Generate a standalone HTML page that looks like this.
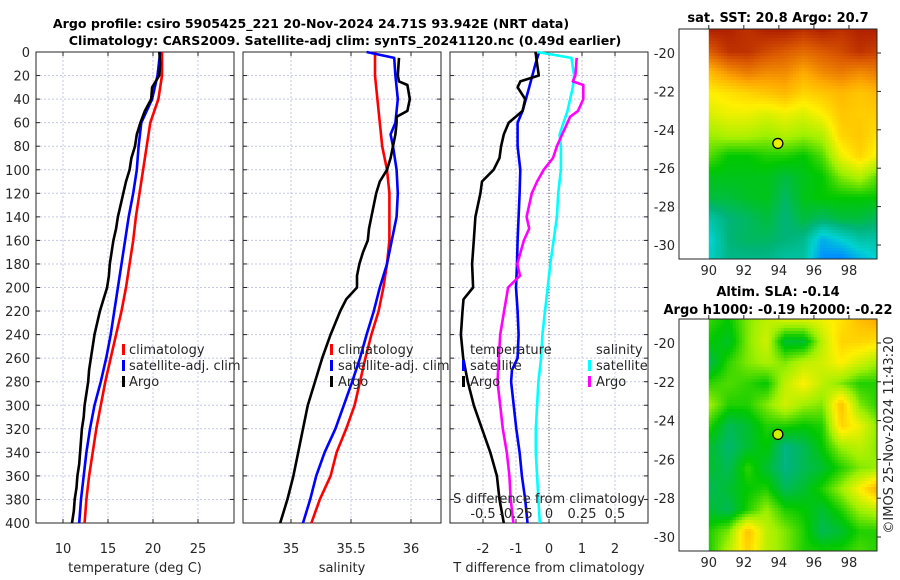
<!DOCTYPE html>
<html><head><meta charset="utf-8"><style>
body{margin:0;background:#fff;}
svg{display:block;font-family:"DejaVu Sans","Liberation Sans",sans-serif;}
</style></head><body>
<svg id="fig" width="900" height="580" viewBox="0 0 900 580" xmlns="http://www.w3.org/2000/svg">
<text x="311" y="28" text-anchor="middle" font-size="12.6" font-weight="bold">Argo profile: csiro 5905425_221 20-Nov-2024 24.71S 93.942E (NRT data)</text>
<text x="345" y="45" text-anchor="middle" font-size="12.6" font-weight="bold">Climatology: CARS2009. Satellite-adj clim: synTS_20241120.nc (0.49d earlier)</text>
<g id="g"></g>
</svg>
<script>
// ---------- data ----------
const climDepth=[0,20,40,60,80,100,120,140,160,180,200,220,240,260,280,300,320,340,360,380,400];
const climTemp=[21.0,21.0,20.6,19.7,19.3,18.9,18.5,18.1,17.8,17.4,17.0,16.5,15.9,15.3,14.7,14.2,13.7,13.3,12.9,12.6,12.4];
const satTemp=[20.8,20.5,19.9,18.7,18.4,18.2,17.8,17.3,16.9,16.5,16.1,15.7,15.3,14.8,14.2,13.5,13.0,12.6,12.3,12.0,11.8];
const argoDepth=[0,10,20,30,40,50,60,70,80,90,100,110,120,130,140,150,160,170,180,190,200,210,220,230,240,250,260,270,280,290,300,310,320,330,340,350,360,370,380,390,400];
const argoTemp=[20.7,20.8,20.7,19.9,19.8,19.1,18.6,18.2,18.0,17.6,17.4,17.0,16.7,16.4,16.1,15.9,15.6,15.4,15.2,15.1,14.9,14.5,14.1,13.8,13.5,13.3,13.1,12.9,12.8,12.6,12.4,12.3,12.1,12.0,11.9,11.8,11.6,11.5,11.3,11.2,11.0];
const climSalt=[35.70,35.70,35.72,35.74,35.76,35.80,35.82,35.82,35.82,35.80,35.77,35.73,35.67,35.62,35.575,35.53,35.46,35.38,35.33,35.24,35.17];
const satSaltDepth=[0,5,20,40,60,70,80,100,120,140,160,180,200,220,240,260,280,300,320,340,360,380,400];
const satSalt=[35.63,35.86,35.87,35.89,35.87,35.83,35.85,35.88,35.89,35.88,35.84,35.80,35.74,35.69,35.63,35.575,35.51,35.44,35.37,35.28,35.21,35.16,35.10];
const argoSaltDepth=[5,20,25,28,40,50,55,60,70,80,90,100,110,120,140,150,160,170,180,190,200,210,220,240,260,280,300,320,340,360,380,400];
const argoSalt=[35.90,35.89,35.90,35.97,35.99,35.97,35.88,35.88,35.87,35.85,35.83,35.80,35.74,35.71,35.67,35.65,35.64,35.60,35.57,35.55,35.55,35.46,35.41,35.33,35.26,35.20,35.14,35.10,35.06,35.02,34.97,34.91];
const dTsatDepth=[0,10,30,50,60,80,100,120,140,160,180,200,220,240,260,270,280,300,320,340,360,380,400];
const dTsat=[-0.3,-0.41,-0.6,-0.8,-0.95,-0.95,-0.87,-0.89,-0.92,-0.95,-0.97,-1.0,-0.95,-0.92,-0.95,-1.12,-1.15,-1.07,-0.99,-0.89,-0.82,-0.72,-0.65];
const dTargoDepth=[0,10,20,25,30,40,50,60,70,80,90,100,110,120,140,160,180,200,210,220,240,260,280,300,320,340,360,380,400];
const dTargo=[-0.41,-0.36,-0.31,-0.87,-0.95,-0.72,-0.8,-1.22,-1.37,-1.45,-1.5,-1.68,-2.03,-2.08,-2.23,-2.28,-2.33,-2.3,-2.59,-2.62,-2.67,-2.6,-2.46,-2.28,-2.03,-1.78,-1.58,-1.5,-1.37];
const dSsatDepth=[0,5,20,30,50,60,70,80,100,120,140,160,180,200,220,240,260,280,300,320,340,360,380,400];
const dSsat=[-0.09,0.17,0.19,0.18,0.14,0.11,0.08,0.09,0.09,0.07,0.06,0.035,0.01,-0.01,-0.03,-0.05,-0.06,-0.08,-0.09,-0.1,-0.1,-0.09,-0.08,-0.07];
const dSargoDepth=[5,20,25,28,40,50,55,60,70,80,90,100,110,120,140,150,160,180,190,200,220,240,260,280,300,320,340,360,380,400];
const dSargo=[0.21,0.2,0.18,0.26,0.26,0.22,0.16,0.14,0.1,0.06,0.03,-0.04,-0.09,-0.13,-0.17,-0.15,-0.19,-0.24,-0.22,-0.31,-0.34,-0.37,-0.38,-0.39,-0.37,-0.35,-0.32,-0.3,-0.29,-0.27];
const depthTicks=[0,20,40,60,80,100,120,140,160,180,200,220,240,260,280,300,320,340,360,380,400];
const tempTicks=[10,15,20,25];
const saltTicks=[35,35.5,36];
const saltTickLabels=["35","35.5","36"];
const dTTicks=[-2,-1,0,1,2];
const dSTicks=[-0.5,-0.25,0,0.25,0.5];
const dSTickLabels=["-0.5","-0.25","0","0.25","0.5"];
const lonTicks=[90,92,94,96,98];
const latTicks=[-20,-22,-24,-26,-28,-30];
const floatLon=93.942, floatLat=-24.71;
const sstGrid=[
[0.97,0.97,0.95,0.97,0.97,0.95,0.97,0.95,0.97,0.97],
[0.9,0.95,0.95,0.92,0.9,0.88,0.9,0.92,0.95,0.93],
[0.78,0.83,0.86,0.84,0.84,0.8,0.84,0.86,0.84,0.86],
[0.7,0.72,0.74,0.76,0.78,0.74,0.76,0.78,0.76,0.78],
[0.66,0.68,0.68,0.66,0.68,0.66,0.7,0.76,0.75,0.75],
[0.6,0.62,0.62,0.6,0.62,0.6,0.62,0.74,0.76,0.72],
[0.55,0.5,0.5,0.52,0.52,0.5,0.55,0.68,0.74,0.68],
[0.48,0.48,0.48,0.48,0.45,0.48,0.5,0.58,0.62,0.55],
[0.45,0.45,0.47,0.48,0.42,0.48,0.5,0.5,0.5,0.5],
[0.35,0.4,0.42,0.45,0.4,0.45,0.42,0.45,0.45,0.42],
[0.3,0.4,0.42,0.42,0.4,0.38,0.25,0.3,0.35,0.35],
[0.32,0.38,0.38,0.38,0.35,0.35,0.2,0.18,0.25,0.3]];
const slaGrid=[
[0.53,0.5,0.58,0.63,0.65,0.65,0.68,0.72,0.77,0.8],
[0.5,0.47,0.58,0.65,0.46,0.46,0.63,0.74,0.74,0.72],
[0.44,0.53,0.58,0.61,0.58,0.63,0.65,0.7,0.65,0.6],
[0.53,0.55,0.53,0.5,0.63,0.7,0.63,0.58,0.52,0.52],
[0.6,0.52,0.52,0.58,0.65,0.6,0.58,0.77,0.58,0.52],
[0.52,0.43,0.46,0.52,0.52,0.5,0.52,0.74,0.68,0.58],
[0.46,0.41,0.46,0.5,0.39,0.43,0.5,0.6,0.63,0.58],
[0.46,0.43,0.53,0.46,0.39,0.43,0.46,0.52,0.58,0.6],
[0.43,0.46,0.5,0.52,0.43,0.46,0.52,0.6,0.7,0.8],
[0.46,0.43,0.52,0.6,0.52,0.5,0.46,0.52,0.6,0.63],
[0.52,0.58,0.77,0.63,0.58,0.52,0.43,0.46,0.52,0.52],
[0.52,0.63,0.74,0.63,0.58,0.52,0.52,0.52,0.55,0.52]];
// ---------- drawing ----------
const NS="http://www.w3.org/2000/svg";
const G=document.getElementById('g');
function mk(tag,at,parent){const e=document.createElementNS(NS,tag);for(const k in at)e.setAttribute(k,at[k]);(parent||G).appendChild(e);return e;}
function txt(x,y,s,at,parent){const e=mk('text',Object.assign({x:x,y:y,'font-size':13,fill:'#262626'},at||{}),parent);e.textContent=s;return e;}
const TOP=52,BOT=523;
const yD=d=>TOP+d*(BOT-TOP)/400;
function lin(d0,d1,p0,p1){return v=>p0+(v-d0)*(p1-p0)/(d1-d0);}
const panels=[
 {x0:36,x1:234,xs:lin(7,29,36,234),name:'temperature-panel'},
 {x0:243,x1:441,xs:lin(34.6,36.25,243,441),name:'salinity-panel'},
 {x0:450,x1:648,xs:lin(-3,3,450,648),name:'difference-panel'}];
const xsS=lin(-0.75,0.75,450,648);
function gridAndFrame(p,xt){
  const g=mk('g',{});
  
  
  depthTicks.forEach(d=>{mk('line',{x1:p.x0,x2:p.x1,y1:yD(d),y2:yD(d),stroke:'#c4c8e6','stroke-width':1,'stroke-dasharray':'2,2'},g);
    mk('line',{x1:p.x0,x2:p.x0+4,y1:yD(d),y2:yD(d),stroke:'#262626'},g);mk('line',{x1:p.x1-4,x2:p.x1,y1:yD(d),y2:yD(d),stroke:'#262626'},g);});
  xt.forEach(v=>{const x=p.xs(v);mk('line',{x1:x,x2:x,y1:TOP,y2:BOT,stroke:'#c4c8e6','stroke-dasharray':'2,2'},g);
    mk('line',{x1:x,x2:x,y1:BOT,y2:BOT-4,stroke:'#262626'},g);mk('line',{x1:x,x2:x,y1:TOP,y2:TOP+4,stroke:'#262626'},g);});
  mk('rect',{x:p.x0,y:TOP,width:p.x1-p.x0,height:BOT-TOP,fill:'none',stroke:'#262626','stroke-width':1},g);
  return g;
}
function line(xs,depths,vals,color,name){
  const pts=vals.map((v,i)=>xs(v).toFixed(1)+','+yD(depths[i]).toFixed(1)).join(' ');
  const e=mk('polyline',{points:pts,fill:'none',stroke:color,'stroke-width':2.6,'stroke-linejoin':'round'});
  
  
}
gridAndFrame(panels[0],tempTicks);
depthTicks.forEach(d=>{const t=txt(30,yD(d)+5,String(d),{'text-anchor':'end'});});
tempTicks.forEach(v=>{const t=txt(panels[0].xs(v),553,String(v),{'text-anchor':'middle'});});
line(panels[0].xs,climDepth,climTemp,'#ff0000','climatology-temperature-line');
line(panels[0].xs,climDepth,satTemp,'#0000ff','satellite-temperature-line');
line(panels[0].xs,argoDepth,argoTemp,'#000000','argo-temperature-line');
gridAndFrame(panels[1],saltTicks);
saltTicks.forEach((v,i)=>{const t=txt(panels[1].xs(v),553,saltTickLabels[i],{'text-anchor':'middle'});});
line(panels[1].xs,climDepth,climSalt,'#ff0000','climatology-salinity-line');
line(panels[1].xs,satSaltDepth,satSalt,'#0000ff','satellite-salinity-line');
line(panels[1].xs,argoSaltDepth,argoSalt,'#000000','argo-salinity-line');
gridAndFrame(panels[2],dTTicks);
mk('line',{x1:panels[2].xs(0),x2:panels[2].xs(0),y1:TOP,y2:BOT,stroke:'#555','stroke-dasharray':'1,2'});
dTTicks.forEach(v=>{const t=txt(panels[2].xs(v),553,String(v),{'text-anchor':'middle'});});
line(panels[2].xs,dTsatDepth,dTsat,'#0000ff','satellite-t-diff-line');
line(panels[2].xs,dTargoDepth,dTargo,'#000000','argo-t-diff-line');
line(xsS,dSsatDepth,dSsat,'#00ffff','satellite-s-diff-line');
line(xsS,dSargoDepth,dSargo,'#ff00ff','argo-s-diff-line');
dSTicks.forEach((v,i)=>{const t=txt(xsS(v),518,dSTickLabels[i],{'text-anchor':'middle'});});
txt(549,503,'S difference from climatology',{'text-anchor':'middle'});
txt(135,572,'temperature (deg C)',{'text-anchor':'middle'});
txt(342,572,'salinity',{'text-anchor':'middle'});
txt(549,572,'T difference from climatology',{'text-anchor':'middle'});
function leg(bx,tx,y,color,label){mk('rect',{x:bx,y:y-10,width:3,height:11,fill:color});const t=txt(tx,y,label,{fill:'#262626'});}
leg(122,129,354,'#ff0000','climatology');leg(122,129,370,'#0000ff','satellite-adj. clim');leg(122,129,386,'#000000','Argo');
leg(330,338,354,'#ff0000','climatology');leg(330,338,370,'#0000ff','satellite-adj. clim');leg(330,338,386,'#000000','Argo');
txt(470,354,'temperature');leg(462,470,370,'#0000ff','satellite');leg(462,470,386,'#000000','Argo');
txt(596,354,'salinity');leg(588,596,370,'#00ffff','satellite');leg(588,596,386,'#ff00ff','Argo');
const cmapStops=[[0,[0,40,200]],[0.2,[0,140,255]],[0.3,[0,210,210]],[0.4,[0,180,120]],[0.5,[0,200,0]],[0.6,[160,240,0]],[0.7,[255,240,0]],[0.8,[255,170,0]],[0.9,[220,90,0]],[1,[160,10,0]]];
function cmap(v){v=Math.max(0,Math.min(1,v));for(let i=1;i<cmapStops.length;i++){if(v<=cmapStops[i][0]){const a=cmapStops[i-1],b=cmapStops[i];const t=(v-a[0])/(b[0]-a[0]);const c=a[1].map((x,k)=>Math.round(x+(b[1][k]-x)*t));return `rgb(${c[0]},${c[1]},${c[2]})`;}}return 'rgb(160,10,0)';}
function map(top,bot,grid,title1,title2,name){
  const x0=679,x1=877;const xl=lin(88.3,99.6,x0,x1);
  const lat20=top+24,lat30=bot-14; const yl=lin(-20,-30,lat20,lat30);
  const g=mk('g',{});
  const lonB=99.6;
  const latTop=-20-(lat20-top)/((lat30-lat20)/10), latBot=-20-(bot-lat20)/((lat30-lat20)/10);
  const step=3;const R=grid.length,C=grid[0].length;
  for(let py=top;py<bot;py+=step){for(let px=xl(90);px<x1;px+=step){
    const lon=90+(px-xl(90))/(x1-xl(90))*(lonB-90);const lat=latTop+(py-top)/(bot-top)*(latBot-latTop);
    let fc=(lon-90)/(lonB-90)*(C-1),fr=(latTop-lat)/(latTop-latBot)*(R-1);
    fc=Math.max(0,Math.min(C-1,fc));fr=Math.max(0,Math.min(R-1,fr));
    const c0=Math.floor(fc),r0=Math.floor(fr),c1=Math.min(C-1,c0+1),r1=Math.min(R-1,r0+1);const tc=fc-c0,tr=fr-r0;
    const v=(grid[r0][c0]*(1-tc)+grid[r0][c1]*tc)*(1-tr)+(grid[r1][c0]*(1-tc)+grid[r1][c1]*tc)*tr;
    mk('rect',{x:px,y:py,width:Math.min(step+0.3,x1-px),height:Math.min(step+0.3,bot-py),fill:cmap(v)},g);}}
  mk('rect',{x:x0,y:top,width:x1-x0,height:bot-top,fill:'none',stroke:'#262626'},g);
  lonTicks.forEach(v=>{mk('line',{x1:xl(v),x2:xl(v),y1:top,y2:top-4,stroke:'#262626'},g);
    const t=txt(xl(v),bot+16,String(v),{'text-anchor':'middle'},g);});
  latTicks.forEach(v=>{mk('line',{x1:x1,x2:x1+4,y1:yl(v),y2:yl(v),stroke:'#262626'},g);
    const t=txt(x0-4,yl(v)+5,String(v),{'text-anchor':'end'},g);});
  const px=xl(floatLon),py=yl(floatLat);
  const cv=grid[Math.round((latTop-floatLat)/(latTop-latBot)*(R-1))][Math.round((floatLon-90)/(lonB-90)*(C-1))];
  const c=mk('circle',{cx:px,cy:py,r:5,fill:cmap(cv),stroke:'#000','stroke-width':1.3});
  
  
  if(title2){txt(778,top-23,title1,{'text-anchor':'middle','font-weight':'bold',fill:'#000'});txt(778,top-5,title2,{'text-anchor':'middle','font-weight':'bold',fill:'#000'});}
  else txt(778,top-7,title1,{'text-anchor':'middle','font-weight':'bold',fill:'#000'});
}
map(29,259,sstGrid,'sat. SST: 20.8 Argo: 20.7',null,'sst-map');
map(319,551,slaGrid,'Altim. SLA: -0.14','Argo h1000: -0.19 h2000: -0.22','sla-map');
const cp=txt(0,0,'\u00a9IMOS 25-Nov-2024 11:43:20',{'text-anchor':'middle',transform:'translate(893,435) rotate(-90)'});


</script>
</body></html>
